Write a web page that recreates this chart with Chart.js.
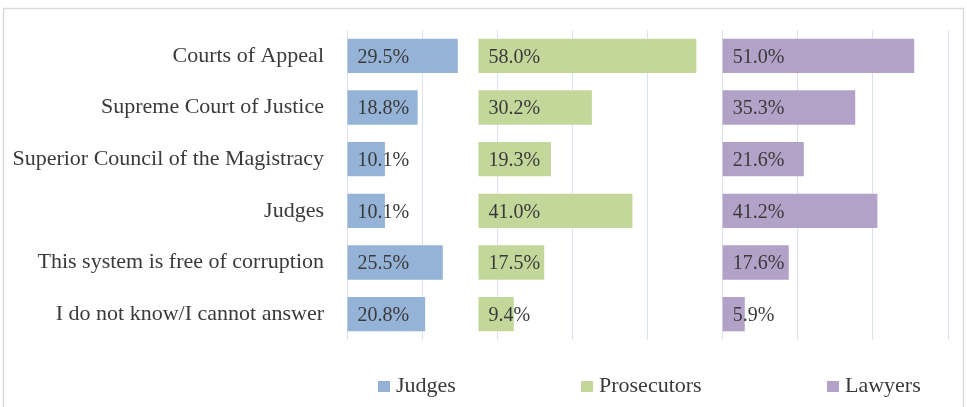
<!DOCTYPE html>
<html>
<head>
<meta charset="utf-8">
<script src="https://cdn.jsdelivr.net/npm/chart.js@4"></script>
<style>
  html, body { margin: 0; padding: 0; background: #fff; }
  #wrap { width: 967px; height: 407px; position: relative; }
</style>
</head>
<body>
<div id="wrap"><canvas id="corruptionChart" width="967" height="407"></canvas></div>
<script>
const categories = [
  'Courts of Appeal',
  'Supreme Court of Justice',
  'Superior Council of the Magistracy',
  'Judges',
  'This system is free of corruption',
  'I do not know/I cannot answer'
];
const judges = [29.5, 18.8, 10.1, 10.1, 25.5, 20.8];
const prosecutors = [58.0, 30.2, 19.3, 41.0, 17.5, 9.4];
const lawyers = [51.0, 35.3, 21.6, 41.2, 17.6, 5.9];

// each group gets its own panel along the shared x axis
const panelStart = [0, 35, 100];
const seriesNames = ['Judges', 'Prosecutors', 'Lawyers'];
const seriesColors = ['#95b3d7', '#c4d79b', '#b3a2c7'];
const legendX = [378, 581, 827];

const FONT = "'Liberation Serif', serif";
const TEXT = '#3a3a3a';

function panel(values, i) {
  return {
    label: seriesNames[i],
    data: values.map(v => [panelStart[i], panelStart[i] + v]),
    values: values,
    backgroundColor: seriesColors[i],
    grouped: false,
    barPercentage: 0.665,
    categoryPercentage: 1
  };
}

const valueLabels = {
  id: 'valueLabels',
  afterDatasetsDraw(chart) {
    const ctx = chart.ctx;
    ctx.save();
    ctx.font = '20px ' + FONT;
    ctx.fillStyle = TEXT;
    ctx.textBaseline = 'middle';
    ctx.textAlign = 'left';
    chart.data.datasets.forEach((ds, i) => {
      chart.getDatasetMeta(i).data.forEach((bar, j) => {
        const x = Math.min(bar.x, bar.base);
        ctx.fillText(ds.values[j].toFixed(1) + '%', x + 10, bar.y + 1.5);
      });
    });
    ctx.restore();
  }
};

const frameAndLegend = {
  id: 'frameAndLegend',
  beforeDraw(chart) {
    const ctx = chart.ctx;
    ctx.save();
    ctx.strokeStyle = '#d9d9d9';
    ctx.lineWidth = 1.5;
    ctx.strokeRect(3.5, 8.5, 960, 410);
    ctx.restore();
  },
  afterDraw(chart) {
    const ctx = chart.ctx;
    ctx.save();
    ctx.font = '22px ' + FONT;
    ctx.textBaseline = 'middle';
    seriesNames.forEach((name, i) => {
      ctx.fillStyle = seriesColors[i];
      ctx.fillRect(legendX[i], 381, 12, 11);
      ctx.fillStyle = TEXT;
      ctx.fillText(name, legendX[i] + 18, 386);
    });
    ctx.restore();
  }
};

new Chart(document.getElementById('corruptionChart'), {
  type: 'bar',
  data: {
    labels: categories,
    datasets: [panel(judges, 0), panel(prosecutors, 1), panel(lawyers, 2)]
  },
  options: {
    indexAxis: 'y',
    responsive: false,
    animation: false,
    layout: { padding: { top: 30, right: 19, bottom: 67, left: 0 } },
    plugins: {
      legend: { display: false },
      tooltip: { enabled: false }
    },
    scales: {
      x: {
        min: 0,
        max: 160,
        ticks: { stepSize: 20, display: false },
        grid: { color: '#dae2ef', lineWidth: 1, drawTicks: false },
        border: { display: false }
      },
      y: {
        afterFit(scale) {
          scale.width = 347;
          scale.paddingTop = 0;
          scale.paddingBottom = 0;
        },
        ticks: { color: TEXT, font: { family: FONT, size: 22 }, padding: 23 },
        grid: { display: false, drawTicks: false },
        border: { display: false }
      }
    }
  },
  plugins: [valueLabels, frameAndLegend]
});
</script>
</body>
</html>
